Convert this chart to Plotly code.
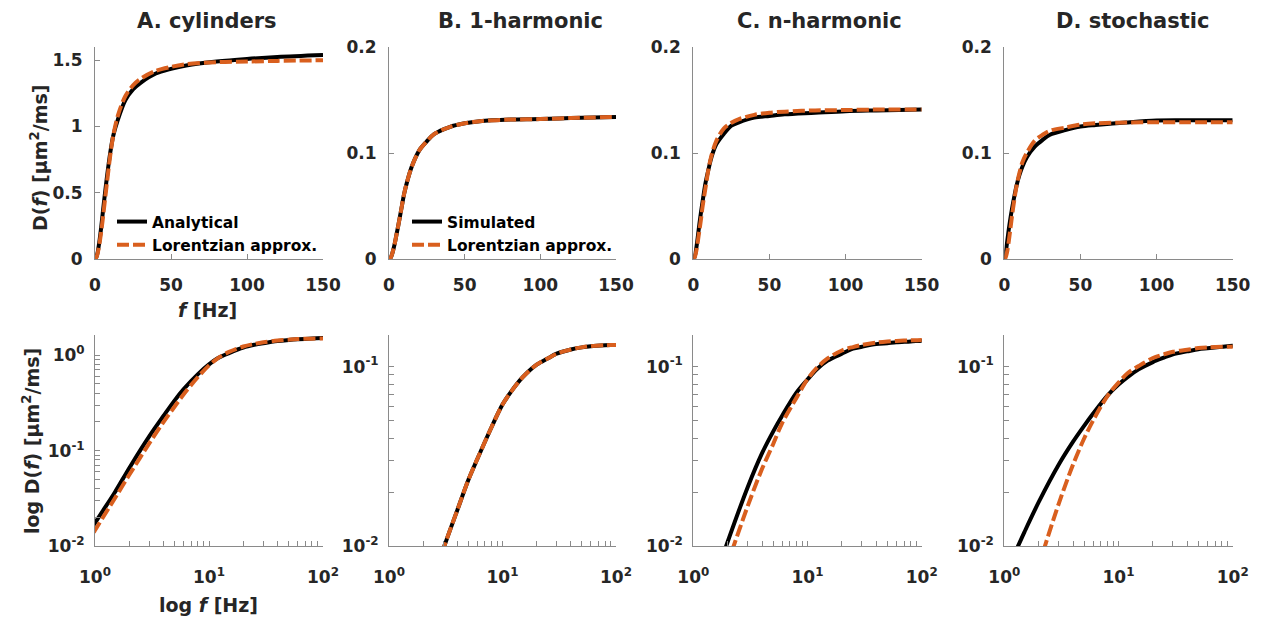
import plotly.graph_objects as go
from plotly.subplots import make_subplots

# ---------------- data ----------------
freq = [0, 0.5, 1, 1.5, 2, 3, 4, 5, 6, 8, 10, 12, 15, 20, 25, 30, 40, 50, 60, 80, 100, 120, 150]

cyl_analytical = [0, 0.0045, 0.0175, 0.037, 0.066, 0.142, 0.232, 0.336, 0.44, 0.632, 0.80, 0.93,
                  1.05, 1.20, 1.28, 1.33, 1.40, 1.435, 1.46, 1.49, 1.51, 1.525, 1.54]
cyl_lorentz = [0, 0.0037, 0.0147, 0.032, 0.056, 0.12, 0.20, 0.29, 0.39, 0.59, 0.78, 0.93,
               1.08, 1.23, 1.31, 1.36, 1.42, 1.45, 1.47, 1.485, 1.49, 1.495, 1.50]

harm1_sim = [0, 0.00027, 0.0011, 0.0024, 0.0043, 0.0096, 0.0159, 0.0234, 0.0306, 0.046, 0.0615, 0.073,
             0.087, 0.1025, 0.111, 0.118, 0.1245, 0.128, 0.130, 0.1315, 0.132, 0.133, 0.134]
harm1_lorentz = [0, 0.00027, 0.0011, 0.0024, 0.0043, 0.0096, 0.0159, 0.0234, 0.0306, 0.046, 0.0615, 0.073,
                 0.087, 0.1025, 0.111, 0.118, 0.1245, 0.128, 0.130, 0.1315, 0.132, 0.133, 0.134]

harmn_sim = [0, 0.0008, 0.0029, 0.0062, 0.0106, 0.0214, 0.033, 0.0435, 0.0533, 0.0716, 0.0848, 0.0964,
             0.108, 0.118, 0.1258, 0.129, 0.1334, 0.135, 0.1365, 0.138, 0.1395, 0.1402, 0.141]
harmn_lorentz = [0, 0.0005, 0.002, 0.0045, 0.008, 0.0168, 0.027, 0.037, 0.0485, 0.067, 0.085, 0.098,
                 0.111, 0.123, 0.1285, 0.132, 0.136, 0.138, 0.139, 0.1402, 0.1405, 0.141, 0.141]

stoch_sim = [0, 0.0027, 0.0068, 0.0120, 0.0176, 0.0285, 0.0382, 0.0468, 0.0548, 0.069, 0.0795, 0.0875,
             0.0965, 0.106, 0.1122, 0.1172, 0.1216, 0.125, 0.1265, 0.1288, 0.1306, 0.1308, 0.131]
stoch_lorentz = [0, 0.0005, 0.0019, 0.0044, 0.0078, 0.0173, 0.0285, 0.0398, 0.0502, 0.0686, 0.0815, 0.0918,
                 0.1007, 0.1117, 0.117, 0.121, 0.124, 0.1268, 0.128, 0.1288, 0.129, 0.129, 0.129]

panel_titles = ["A. cylinders", "B. 1-harmonic", "C. n-harmonic", "D. stochastic"]
black_names = ["Analytical", "Simulated", "Simulated", "Simulated"]
orange_name = "Lorentzian approx."

lin_x_ticks = [0, 50, 100, 150]
lin_y_ticks_A = [0, 0.5, 1, 1.5]
lin_y_text_A = ["0", "0.5", "1", "1.5"]
lin_y_ticks_BCD = [0, 0.1, 0.2]
lin_y_text_BCD = ["0", "0.1", "0.2"]

# ---------------- style ----------------
BLACK = "#000000"
ORANGE = "#D95F1E"
AXIS = "#8a8a8a"
TEXT = "#262626"
FONT = "DejaVu Sans"

black_sets = [cyl_analytical, harm1_sim, harmn_sim, stoch_sim]
orange_sets = [cyl_lorentz, harm1_lorentz, harmn_lorentz, stoch_lorentz]

fig = make_subplots(rows=2, cols=4)

W, H = 1262, 624
col_px = [(95, 323), (389, 616), (693.3, 921.7), (1004.3, 1232.7)]
row_px = [(47, 259), (335, 546.3)]

for c in range(4):
    blk = black_sets[c]
    org = orange_sets[c]
    leg = "legend2" if c == 1 else "legend"
    show = c < 2
    fig.add_trace(go.Scatter(x=freq, y=blk, mode="lines", name=black_names[c],
                             line=dict(color=BLACK, width=4, shape="spline", smoothing=0.9),
                             showlegend=show, legend=leg), row=1, col=c + 1)
    fig.add_trace(go.Scatter(x=freq, y=org, mode="lines", name=orange_name,
                             line=dict(color=ORANGE, width=4, dash="12px,4px", shape="spline", smoothing=0.9),
                             showlegend=show, legend=leg), row=1, col=c + 1)
    fx = [f for f in freq if f > 0]
    by = [v for f, v in zip(freq, blk) if f > 0]
    oy = [v for f, v in zip(freq, org) if f > 0]
    fig.add_trace(go.Scatter(x=fx, y=by, mode="lines", showlegend=False,
                             line=dict(color=BLACK, width=4, shape="spline", smoothing=0.9)), row=2, col=c + 1)
    fig.add_trace(go.Scatter(x=fx, y=oy, mode="lines", showlegend=False,
                             line=dict(color=ORANGE, width=4, dash="12px,4px", shape="spline", smoothing=0.9)),
                  row=2, col=c + 1)

tickfont = dict(family=FONT, size=17, color=TEXT, weight="bold")
common = dict(showline=True, linecolor=AXIS, linewidth=1, ticks="inside", tickcolor=AXIS,
              ticklen=5, tickwidth=1, showgrid=False, zeroline=False, tickfont=tickfont, mirror=False,
              automargin=False)

log_x_vals = [1, 2, 3, 4, 5, 6, 7, 8, 9, 10, 20, 30, 40, 50, 60, 70, 80, 90, 100]
log_x_text = ["10<sup>0</sup>" if v == 1 else "10<sup>1</sup>" if v == 10 else "10<sup>2</sup>" if v == 100 else ""
              for v in log_x_vals]
log_y_vals = [0.01, 0.02, 0.03, 0.04, 0.05, 0.06, 0.07, 0.08, 0.09, 0.1, 0.2, 0.3, 0.4, 0.5, 0.6, 0.7, 0.8, 0.9, 1]
log_y_text = ["10<sup>-2</sup>" if v == 0.01 else "10<sup>-1</sup>" if v == 0.1 else "10<sup>0</sup>" if v == 1 else ""
              for v in log_y_vals]

for c in range(4):
    x0, x1 = col_px[c]
    xd = [x0 / W, x1 / W]
    yd_top = [(H - row_px[0][1]) / H, (H - row_px[0][0]) / H]
    yd_bot = [(H - row_px[1][1]) / H, (H - row_px[1][0]) / H]
    fig.update_xaxes(domain=xd, range=[0, 150], tickmode="array", tickvals=lin_x_ticks,
                     ticklabelstandoff=11, **common, row=1, col=c + 1)
    if c == 0:
        fig.update_yaxes(domain=yd_top, range=[0, 1.6], tickmode="array", tickvals=lin_y_ticks_A,
                         ticktext=lin_y_text_A, ticklabelstandoff=8, **common, row=1, col=1)
    else:
        fig.update_yaxes(domain=yd_top, range=[0, 0.2], tickmode="array", tickvals=lin_y_ticks_BCD,
                         ticktext=lin_y_text_BCD, ticklabelstandoff=8, **common, row=1, col=c + 1)
    fig.update_xaxes(domain=xd, type="log", range=[0, 2], tickmode="array", tickvals=log_x_vals,
                     ticktext=log_x_text, ticklabelstandoff=15, **common, row=2, col=c + 1)
    ytop = 0.21 if c == 0 else -0.824
    fig.update_yaxes(domain=yd_bot, type="log", range=[-2, ytop], tickmode="array", tickvals=log_y_vals,
                     ticktext=log_y_text, ticklabelstandoff=6, **common, row=2, col=c + 1)

annots = []
title_x = [207, 520, 819, 1132]
for c in range(4):
    annots.append(dict(text="<b>%s</b>" % panel_titles[c], x=title_x[c] / W, y=(H - 21) / H,
                       xref="paper", yref="paper", showarrow=False, xanchor="center", yanchor="middle",
                       font=dict(family=FONT, size=21, color=TEXT)))
lab_font = dict(family=FONT, size=19, color=TEXT, weight="bold")
annots.append(dict(text="D(<i>f</i>) [μm<sup>2</sup>/ms]", x=39 / W, y=(H - 158) / H, xref="paper", yref="paper",
                   showarrow=False, textangle=-90, xanchor="center", yanchor="middle", font=lab_font))
annots.append(dict(text="log D(<i>f</i>) [μm<sup>2</sup>/ms]", x=31 / W, y=(H - 441) / H, xref="paper",
                   yref="paper", showarrow=False, textangle=-90, xanchor="center", yanchor="middle", font=lab_font))
annots.append(dict(text="<i>f</i> [Hz]", x=207 / W, y=(H - 310) / H, xref="paper", yref="paper",
                   showarrow=False, xanchor="center", yanchor="middle", font=lab_font))
annots.append(dict(text="log <i>f</i> [Hz]", x=208 / W, y=(H - 605) / H, xref="paper", yref="paper",
                   showarrow=False, xanchor="center", yanchor="middle", font=lab_font))

leg_common = dict(bgcolor="rgba(0,0,0,0)", borderwidth=0, xanchor="left", yanchor="top",
                  font=dict(family=FONT, size=15.5, color="#000000", weight="bold"),
                  itemwidth=30, tracegroupgap=0, itemclick=False)
fig.update_layout(
    width=W, height=H, autosize=False,
    margin=dict(l=0, r=0, t=0, b=0, pad=0, autoexpand=False),
    paper_bgcolor="white", plot_bgcolor="white",
    annotations=annots,
    legend=dict(x=(155 - 43) / W, y=(H - 205) / H, **leg_common),
    legend2=dict(x=(450 - 43) / W, y=(H - 205) / H, **leg_common),
)

fig.write_html("out.html")
